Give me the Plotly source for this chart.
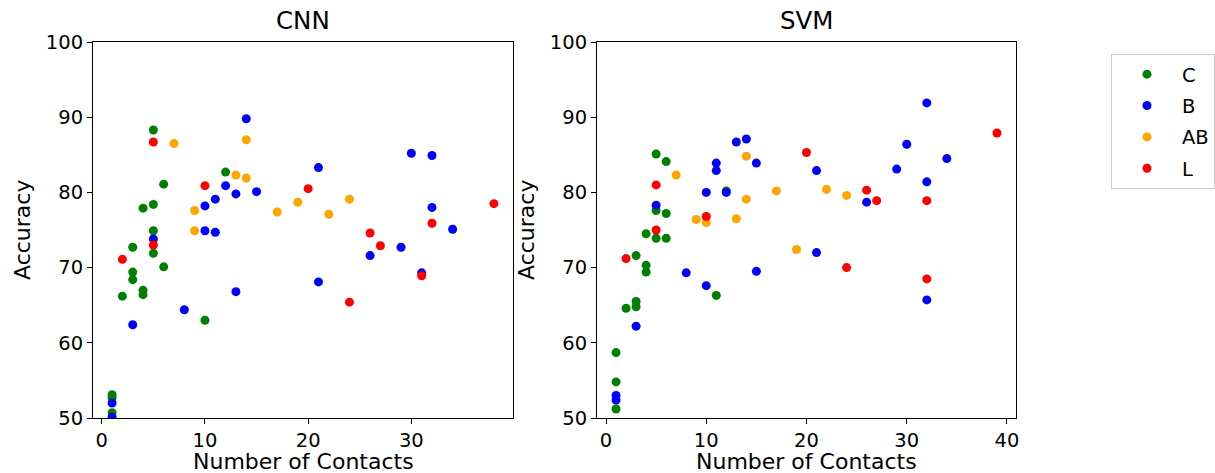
import plotly.graph_objects as go

# ---------------- data ----------------
categories = ["C", "B", "AB", "L"]
colors = ["green", "blue", "orange", "red"]

cnn_c_x = [1, 1, 1, 2, 3, 3, 3, 4, 4, 4, 5, 5, 5, 5, 6, 6, 10, 12]
cnn_c_y = [53.1, 52.7, 50.7, 66.2, 72.7, 69.4, 68.4, 77.9, 67.0, 66.4, 88.3, 78.4, 74.9, 71.9, 81.1, 70.1, 63.0, 82.7]
cnn_b_x = [1, 1, 3, 5, 8, 10, 10, 11, 11, 12, 13, 13, 14, 15, 21, 21, 26, 29, 30, 31, 32, 32, 34]
cnn_b_y = [52.0, 50.1, 62.4, 73.8, 64.4, 78.2, 74.9, 79.1, 74.7, 80.9, 79.8, 66.8, 89.8, 80.1, 83.3, 68.1, 71.6, 72.7, 85.2, 69.3, 84.9, 78.0, 75.1]
cnn_ab_x = [7, 9, 9, 13, 14, 14, 17, 19, 22, 24]
cnn_ab_y = [86.5, 77.6, 74.9, 82.3, 87.0, 81.9, 77.4, 78.7, 77.1, 79.1]
cnn_l_x = [2, 5, 5, 10, 20, 24, 26, 27, 31, 32, 38]
cnn_l_y = [71.1, 86.7, 73.0, 80.9, 80.5, 65.4, 74.6, 72.9, 68.9, 75.9, 78.5]

svm_c_x = [1, 1, 1, 2, 3, 3, 3, 4, 4, 4, 5, 5, 5, 6, 6, 6, 11, 12]
svm_c_y = [58.7, 54.8, 51.2, 64.6, 71.6, 65.5, 64.8, 74.5, 70.3, 69.4, 85.1, 77.6, 73.9, 84.1, 77.2, 73.9, 66.3, 80.2]
svm_b_x = [1, 1, 3, 5, 8, 10, 10, 11, 11, 12, 13, 14, 15, 15, 21, 21, 26, 29, 30, 32, 32, 32, 34]
svm_b_y = [53.0, 52.4, 62.2, 78.3, 69.3, 80.0, 67.6, 83.9, 82.9, 80.0, 86.7, 87.1, 83.9, 69.5, 82.9, 72.0, 78.7, 83.1, 86.4, 91.9, 81.4, 65.7, 84.5]
svm_ab_x = [7, 9, 10, 13, 14, 14, 17, 19, 22, 24]
svm_ab_y = [82.3, 76.4, 76.0, 76.5, 84.8, 79.1, 80.2, 72.4, 80.4, 79.6]
svm_l_x = [2, 5, 5, 10, 20, 24, 26, 27, 32, 32, 39]
svm_l_y = [71.2, 81.0, 75.0, 76.8, 85.3, 70.0, 80.3, 78.9, 78.9, 68.5, 87.9]

y_ticks = [50, 60, 70, 80, 90, 100]
cnn_x_ticks = [0, 10, 20, 30]
svm_x_ticks = [0, 10, 20, 30, 40]

cnn_series = [(cnn_c_x, cnn_c_y), (cnn_b_x, cnn_b_y), (cnn_ab_x, cnn_ab_y), (cnn_l_x, cnn_l_y)]
svm_series = [(svm_c_x, svm_c_y), (svm_b_x, svm_b_y), (svm_ab_x, svm_ab_y), (svm_l_x, svm_l_y)]

FONT = "DejaVu Sans"
fig = go.Figure()

for name, col, (xs, ys) in zip(categories, colors, cnn_series):
    fig.add_trace(go.Scatter(x=xs, y=ys, mode="markers", name=name, legendgroup=name,
                             marker=dict(color=col, size=9), xaxis="x", yaxis="y", showlegend=True))
for name, col, (xs, ys) in zip(categories, colors, svm_series):
    fig.add_trace(go.Scatter(x=xs, y=ys, mode="markers", name=name, legendgroup=name,
                             marker=dict(color=col, size=9), xaxis="x2", yaxis="y2", showlegend=False))

W, H = 1215, 473
L, R, T, B = 93, W - 1016, 42, H - 418
pw = W - L - R
d1 = (0, (513 - L) / pw)
d2 = ((597 - L) / pw, 1)

axis_common = dict(showline=True, linecolor="black", linewidth=1, mirror=True, ticks="outside",
                   ticklen=5, tickwidth=1, tickcolor="black", showgrid=False, zeroline=False,
                   tickfont=dict(family=FONT, size=19.5, color="black"))

fig.update_layout(
    width=W, height=H, margin=dict(l=L, r=R, t=T, b=B, autoexpand=False),
    paper_bgcolor="white", plot_bgcolor="white",
    xaxis=dict(domain=d1, range=[-0.85, 39.85], tickvals=cnn_x_ticks, anchor="y", **axis_common),
    yaxis=dict(domain=[0, 1], range=[50, 100], tickvals=y_ticks, anchor="x", **axis_common),
    xaxis2=dict(domain=d2, range=[-0.9, 40.9], tickvals=svm_x_ticks, anchor="y2", **axis_common),
    yaxis2=dict(domain=[0, 1], range=[50, 100], tickvals=y_ticks, anchor="x2", **axis_common),
    legend=dict(x=(1111 - L) / pw, y=(418 - 54) / (H - T - B), xanchor="left", yanchor="top",
                bordercolor="#cccccc", borderwidth=1, bgcolor="white", itemwidth=60,
                tracegroupgap=3, font=dict(family=FONT, size=19.5, color="black")),
    showlegend=True,
)

ann = []
for dom, title in [(d1, "CNN"), (d2, "SVM")]:
    ann.append(dict(text=title, x=(dom[0] + dom[1]) / 2, y=1, xref="paper", yref="paper",
                    xanchor="center", yanchor="middle", yshift=22, showarrow=False,
                    font=dict(family=FONT, size=24.5, color="black")))
    ann.append(dict(text="Number of Contacts", x=(dom[0] + dom[1]) / 2, y=0, xref="paper", yref="paper",
                    xanchor="center", yanchor="middle", yshift=-43, showarrow=False,
                    font=dict(family=FONT, size=22, color="black")))
    ann.append(dict(text="Accuracy", x=dom[0], y=0.5, xref="paper", yref="paper", textangle=-90,
                    xanchor="center", yanchor="middle", xshift=-71, showarrow=False,
                    font=dict(family=FONT, size=22, color="black")))
fig.update_layout(annotations=ann)

fig.write_html("out.html")
